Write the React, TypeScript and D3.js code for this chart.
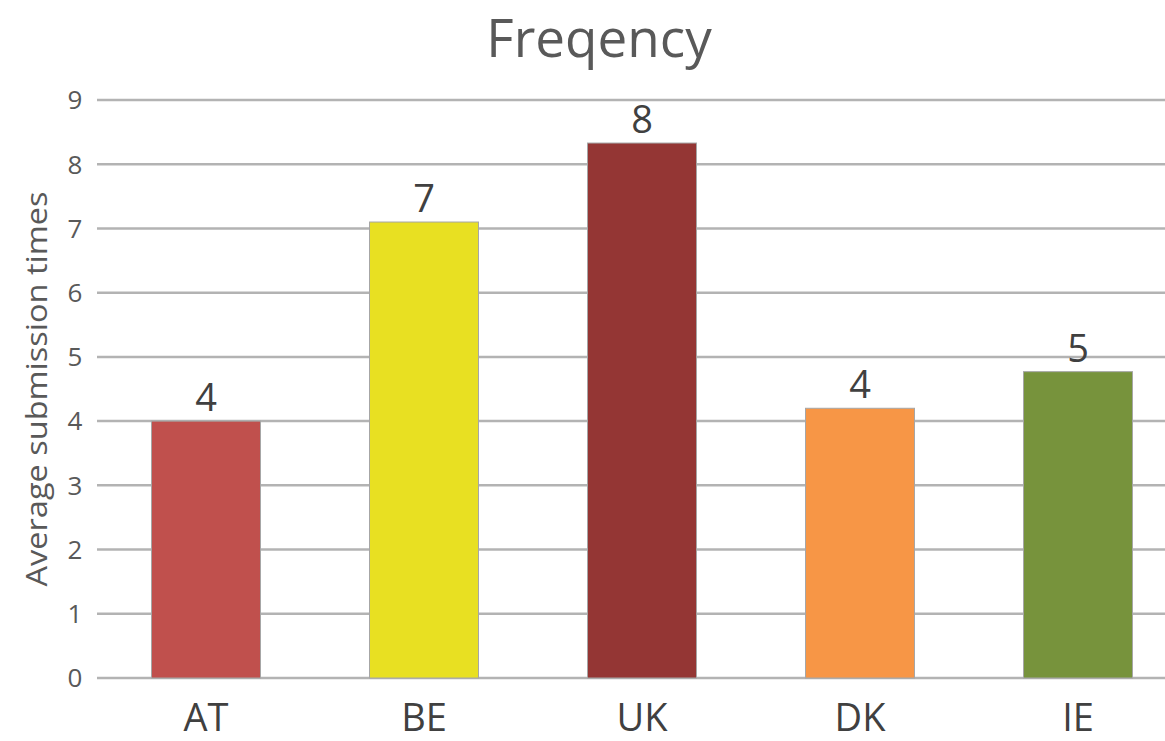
import React from "react";
import * as d3 from "d3";

// Average submission times per country
const countries = ["AT", "BE", "UK", "DK", "IE"];
const values = [4.0, 7.1, 8.33, 4.2, 4.77];
const barColors = ["#C0504D", "#E8E022", "#943634", "#F79646", "#77933C"];
const yTicks = [0, 1, 2, 3, 4, 5, 6, 7, 8, 9];

const W = 1165;
const H = 741;
const FONT = "'Open Sans', 'Noto Sans', sans-serif";

export default function App() {
  const x = d3
    .scaleBand<string>()
    .domain(countries)
    .range([97, 1187])
    .paddingInner(0.5)
    .paddingOuter(0.25);
  const y = d3.scaleLinear().domain([0, 9]).range([678, 100]);
  const fmt = d3.format(".0f");

  return (
    <svg
      width={W}
      height={H}
      style={{ position: "absolute", left: 0, top: 0, background: "#fff", overflow: "hidden" }}
      fontFamily={FONT}
    >
      <text x={599} y={57} textAnchor="middle" fontSize={53} fill="#595959">
        Freqency
      </text>

      {/* horizontal grid + y tick labels */}
      {yTicks.map((t) => (
        <g key={t}>
          <line x1={97} x2={W} y1={y(t)} y2={y(t)} stroke="#B3B3B3" strokeWidth={2.5} />
          <text x={75} y={y(t)} dy="0.36em" textAnchor="middle" fontSize={26} fill="#595959">
            {t}
          </text>
        </g>
      ))}

      <text
        transform={`translate(37,${y(4.5)}) rotate(-90)`}
        textAnchor="middle"
        dy="0.35em"
        fontSize={29}
        textLength={395}
        lengthAdjust="spacingAndGlyphs"
        fill="#595959"
      >
        Average submission times
      </text>

      {countries.map((c, i) => (
        <g key={c}>
          <rect
            x={x(c)}
            y={y(values[i])}
            width={x.bandwidth()}
            height={y(0) - y(values[i])}
            fill={barColors[i]}
            stroke="#A6A6A6"
            strokeWidth={1}
          />
          <text
            x={(x(c) as number) + x.bandwidth() / 2}
            y={y(values[i]) - 10}
            textAnchor="middle"
            fontSize={38}
            fill="#404040"
          >
            {fmt(values[i])}
          </text>
          <text
            x={(x(c) as number) + x.bandwidth() / 2}
            y={731}
            textAnchor="middle"
            fontSize={38}
            fill="#404040"
          >
            {c}
          </text>
        </g>
      ))}
    </svg>
  );
}
